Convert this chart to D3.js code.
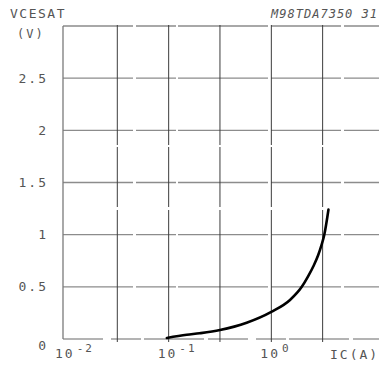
<!DOCTYPE html>
<html><head><meta charset="utf-8">
<script src="https://cdn.jsdelivr.net/npm/d3@7"></script>
<style>
html,body{margin:0;padding:0;background:#fff;}
svg{display:block;}
text{font-family:"DejaVu Sans Mono","Liberation Mono",monospace;fill:#555;}
</style></head>
<body>
<script>
// Data
const currentA = [0.096, 0.15, 0.2, 0.316, 0.575, 1.0, 1.52, 1.98, 2.28, 2.575, 2.85, 3.08, 3.28, 3.6];
const vcesat   = [0.01, 0.04, 0.055, 0.086, 0.156, 0.26, 0.374, 0.50, 0.60, 0.70, 0.80, 0.90, 1.0, 1.24];
const xGrid = [0.0316, 0.1, 0.316, 1, 3.16];
const xTickExp = [-2, -1, 0];
const yTicks = [0, 0.5, 1, 1.5, 2, 2.5];
const yTickLabels = ["0", "0.5", "1", "1.5", "2", "2.5"];
const yMax = 3;

const W = 379, H = 367;
const svg = d3.select("body").append("svg").attr("width", W).attr("height", H);

const x = d3.scaleLog().domain([0.01, 10]).range([66, 374]);
const y = d3.scaleLinear().domain([0, yMax]).range([339, 26]);
const left = 63, right = 379;

// horizontal grid lines
svg.append("g").selectAll("line").data(yTicks.filter(d => d > 0).concat([yMax])).join("line")
  .attr("x1", left).attr("x2", right)
  .attr("y1", d => y(d)).attr("y2", d => y(d))
  .attr("stroke", "#8c8c8c").attr("stroke-width", 1.3)
  .attr("stroke-dasharray", "70 3 40 2 90 3");
// bottom line
svg.append("line").attr("x1", left).attr("x2", right).attr("y1", y(0)).attr("y2", y(0))
  .attr("stroke", "#9a9a9a").attr("stroke-width", 1.3).attr("stroke-dasharray", "40 8 30 3 60 4");
// left border
svg.append("line").attr("x1", left).attr("x2", left).attr("y1", y(yMax)).attr("y2", y(0))
  .attr("stroke", "#7a7a7a").attr("stroke-width", 1.3);
// vertical grid lines
svg.append("g").selectAll("line").data(xGrid).join("line")
  .attr("x1", d => x(d)).attr("x2", d => x(d))
  .attr("y1", y(yMax) - 1).attr("y2", y(0) + 3)
  .attr("stroke", "#3c3c3c").attr("stroke-width", 1)
  .attr("stroke-dasharray", "120 2 60 3 200");

// y tick labels
svg.append("g").selectAll("text").data(yTicks).join("text")
  .attr("x", 48).attr("y", (d, i) => y(d) + (d === 0 ? 6 : 0))
  .attr("text-anchor", "end").attr("dominant-baseline", "central")
  .attr("font-size", 13).attr("letter-spacing", 2)
  .text((d, i) => yTickLabels[i]);

// x tick labels
const xt = svg.append("g").selectAll("text").data(xTickExp).join("text")
  .attr("x", d => x(Math.pow(10, d)) - 11).attr("y", 358)
  .attr("font-size", 13).attr("letter-spacing", 2);
xt.append("tspan").text("10");
xt.append("tspan").attr("dy", -6).attr("font-size", 11).attr("dx", 2).text(d => d === 0 ? "0" : String(d));

svg.append("text").attr("x", 330).attr("y", 359).attr("font-size", 13).attr("letter-spacing", 2).text("IC(A)");

// titles
svg.append("text").attr("x", 10).attr("y", 18).attr("font-size", 13).attr("letter-spacing", 1.5).text("VCESAT");
svg.append("text").attr("x", 17).attr("y", 38).attr("font-size", 12).attr("letter-spacing", 2).text("(V)");
svg.append("text").attr("x", 378).attr("y", 18).attr("text-anchor", "end").attr("font-size", 12)
  .attr("font-style", "italic").attr("letter-spacing", 1).text("M98TDA7350 31");

// curve
const line = d3.line().x((d, i) => x(currentA[i])).y((d, i) => y(vcesat[i])).curve(d3.curveMonotoneX);
svg.append("path").datum(vcesat).attr("d", line)
  .attr("fill", "none").attr("stroke", "#000").attr("stroke-width", 2.6).attr("stroke-linecap", "round");
</script>
</body></html>
